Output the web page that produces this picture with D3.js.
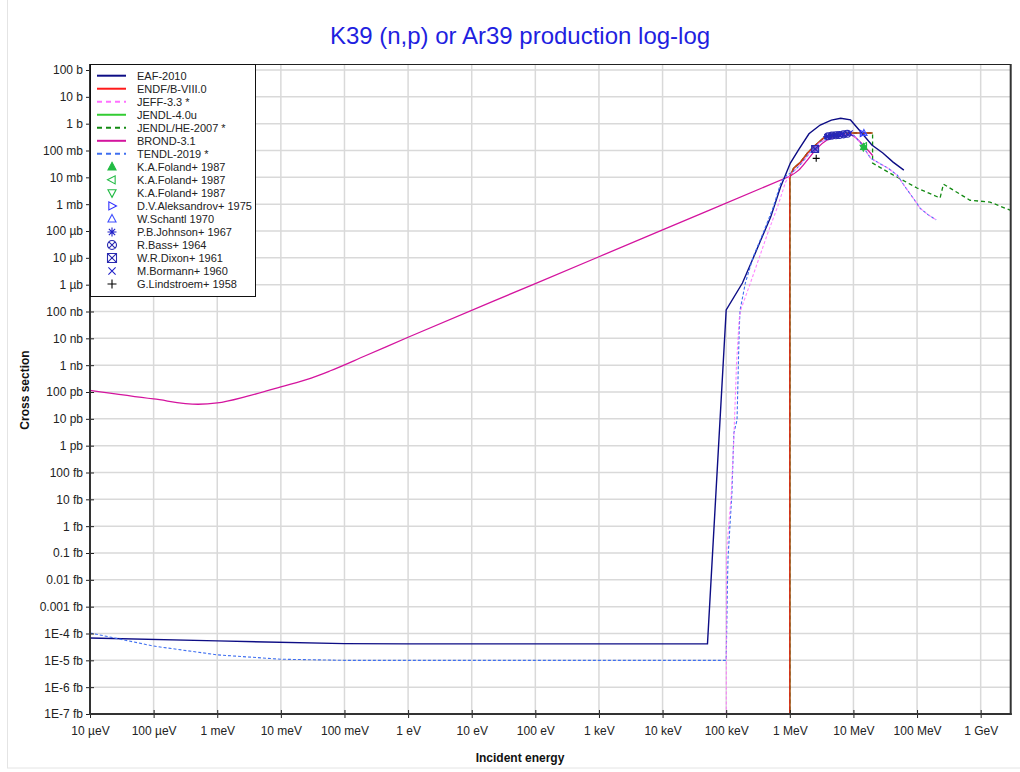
<!DOCTYPE html>
<html><head><meta charset="utf-8">
<script src="https://cdn.jsdelivr.net/npm/d3@7"></script>
<style>
body{margin:0;background:#fff;}
text{font-family:"Liberation Sans",Arial,sans-serif;}
</style></head>
<body><svg id="c" width="1020" height="772"></svg>
<script>
// ---- Tick values and labels ----
const xTickValues = [1e-5,1e-4,1e-3,1e-2,1e-1,1,10,100,1e3,1e4,1e5,1e6,1e7,1e8,1e9];
const xTickLabels = ["10 µeV","100 µeV","1 meV","10 meV","100 meV","1 eV","10 eV","100 eV","1 keV","10 keV","100 keV","1 MeV","10 MeV","100 MeV","1 GeV"];
const yTickValues = [1e2,1e1,1e0,1e-1,1e-2,1e-3,1e-4,1e-5,1e-6,1e-7,1e-8,1e-9,1e-10,1e-11,1e-12,1e-13,1e-14,1e-15,1e-16,1e-17,1e-18,1e-19,1e-20,1e-21,1e-22];
const yTickLabels = ["100 b","10 b","1 b","100 mb","10 mb","1 mb","100 µb","10 µb","1 µb","100 nb","10 nb","1 nb","100 pb","10 pb","1 pb","100 fb","10 fb","1 fb","0.1 fb","0.01 fb","0.001 fb","1E-4 fb","1E-5 fb","1E-6 fb","1E-7 fb"];

// ---- Evaluated data (E in eV, sigma in barn) ----
const eafE = [1e-5,1e-3,0.1,1,5.08e4,1.0e5,1.8e5,2.7e5,3.5e5,5.0e5,7.15e5,1.02e6,1.37e6,2.0e6,3.0e6,4.5e6,6.3e6,9.0e6,1.3e7,1.95e7,2.9e7,4.2e7,6.2e7];
const eafS = [6.8e-20,5.3e-20,4.2e-20,4.1e-20,4.1e-20,1.15e-7,1.15e-6,1.07e-5,4.6e-5,3.3e-4,4.4e-3,3.4e-2,0.105,0.42,0.89,1.36,1.6,1.38,0.5,0.16,0.081,0.037,0.0186];

const endfE = [1.0e6,1.0e6,1.15e6,1.48e6,1.9e6,2.35e6,3.4e6,4.9e6,9.0e6,2.0e7];
const endfS = [1e-25,0.0102,0.022,0.037,0.081,0.135,0.295,0.38,0.45,0.45];

const jendl4E = [1.0e6,1.0e6,1.15e6,1.48e6,1.9e6,2.35e6,3.4e6,4.9e6,9.0e6,2.0e7];
const jendl4S = [1e-25,0.0102,0.022,0.037,0.081,0.135,0.295,0.38,0.45,0.45];

const jendlHeE = [1.0e6,1.0e6,1.15e6,1.48e6,1.9e6,2.35e6,3.4e6,4.9e6,9.0e6,2.0e7,2.0e7,4.2e7,1.0e8,2.3e8,2.6e8,6.8e8,1.4e9,2.9e9];
const jendlHeS = [1e-25,0.0102,0.022,0.037,0.081,0.135,0.295,0.38,0.45,0.45,0.034,0.0123,4.0e-3,1.7e-3,5.6e-3,1.4e-3,1.2e-3,6e-4];

const brondLowE = [1e-5,1e-4,5e-4,1e-3,3e-3,1e-2,0.03,0.06,0.2,1,100,1e4,1e6];
const brondLowS = [1.15e-10,5.5e-11,3.5e-11,3.9e-11,7.0e-11,1.55e-10,3.3e-10,6.2e-10,2.1e-9,1.1e-8,1.1e-6,1.1e-4,1.1e-2];
const brondHighE = [1e6,1.38e6,1.9e6,2.7e6,3.85e6,6.2e6,9.0e6,1.3e7,2.0e7];
const brondHighS = [1.1e-2,0.0186,0.045,0.123,0.245,0.35,0.38,0.2,0.065];

const tendlE = [1e-5,1e-4,1e-3,1e-2,0.1,1e5,1.05e5,1.07e5,1.23e5,1.32e5,1.48e5,1.6e5,1.65e5,2.0e5,2.65e5,3.8e5,5.5e5,7.3e5,9.1e5,1.12e6,1.45e6,2.1e6,3.0e6,4.8e6,7.4e6,1.0e7,1.3e7,1.86e7,3.5e7,4.9e7,6.5e7,9.0e7,1.12e8,1.5e8,2.0e8];
const tendlS = [1.05e-19,3.4e-20,1.6e-20,1.1e-20,1.0e-20,1.0e-20,1e-17,7e-17,1.7e-14,3e-12,9e-12,2e-8,1.1e-7,1.15e-6,1.07e-5,8.3e-5,7.8e-4,6.8e-3,0.0123,0.016,0.029,0.087,0.21,0.32,0.41,0.38,0.19,0.052,0.022,0.012,4.4e-3,1.5e-3,7e-4,4e-4,2.6e-4];

const jeffE = [1.0e5,1.01e5,1.2e5,1.32e5,1.45e5,1.6e5,1.68e5,2.4e5,4.5e5,6.4e5,8.6e5,1.02e6,1.12e6,1.45e6,2.1e6,3.0e6,4.8e6,7.4e6,1.0e7,1.3e7,1.86e7,3.5e7,4.9e7,6.5e7,9.0e7,1.12e8,1.5e8,2.0e8];
const jeffS = [1e-25,1e-16,1.5e-14,2e-12,1e-9,5e-8,1.1e-7,1.15e-6,8.3e-5,7.8e-4,6.8e-3,0.0123,0.016,0.029,0.087,0.21,0.32,0.41,0.38,0.19,0.052,0.022,0.012,4.4e-3,1.5e-3,7e-4,4e-4,2.6e-4];

// ---- Experimental data ----
const folandUpE = [1.45e7], folandUpS = [0.135];
const folandLeftE = [1.47e7], folandLeftS = [0.15];
const folandDownE = [1.43e7], folandDownS = [0.128];
const aleksE = [1.4e7], aleksS = [0.43];
const schantlE = [1.46e7], schantlS = [0.45];
const johnsonE = [3.8e6,4.3e6,4.9e6,5.5e6], johnsonS = [0.33,0.35,0.37,0.38];
const bassE = [4.0e6,4.6e6,5.3e6,6.0e6,7.0e6,8.0e6], bassS = [0.34,0.36,0.37,0.38,0.40,0.42];
const dixonE = [2.5e6], dixonS = [0.114];
const bormannE = [6.5e6,8.8e6], bormannS = [0.40,0.44];
const lindE = [2.6e6], lindS = [0.051];

// ---- Layout ----
const svg = d3.select("#c");
const L = 90, R = 1010.7, T = 64, B = 714;
const x = d3.scaleLog().domain([1e-5, Math.pow(10, 9.472)]).range([L, R]);
const y = d3.scaleLog().domain([1e-22, Math.pow(10, 2.224)]).range([B, T]);

svg.append("rect").attr("x",7.5).attr("y",-1).attr("width",1020).attr("height",769)
  .attr("fill","none").attr("stroke","#e4e4e4");

// title
svg.append("text").attr("x",520).attr("y",44).attr("text-anchor","middle")
  .attr("font-size",24).attr("fill","#1f1fe0").text("K39 (n,p) or Ar39 production log-log");

// grid
const g = svg.append("g");
g.selectAll(".vx").data(xTickValues).join("line")
  .attr("x1",d=>x(d)).attr("x2",d=>x(d)).attr("y1",T).attr("y2",B)
  .attr("stroke","#d9d9d9").attr("stroke-width",1.5);
g.selectAll(".hy").data(yTickValues).join("line")
  .attr("x1",L).attr("x2",R).attr("y1",d=>y(d)).attr("y2",d=>y(d))
  .attr("stroke","#d9d9d9").attr("stroke-width",1.5);

// clip
svg.append("clipPath").attr("id","clip").append("rect")
  .attr("x",L).attr("y",T).attr("width",R-L).attr("height",B-T);
const plot = svg.append("g").attr("clip-path","url(#clip)");

const line = d3.line().x(d=>x(d[0])).y(d=>y(d[1]));
const smooth = d3.line().x(d=>x(d[0])).y(d=>y(d[1])).curve(d3.curveMonotoneX);
function series(E,S,color,dash,w,op,gen){
  plot.append("path").datum(E.map((e,i)=>[e,S[i]]))
    .attr("d",gen||line).attr("fill","none").attr("stroke",color)
    .attr("stroke-width",w||1.3).attr("stroke-dasharray",dash||null)
    .attr("stroke-opacity",op==null?1:op);
}
const C = {eaf:"#0d0d85", endf:"#ff1a1a", jeff:"#ff70ff", jendl4:"#33cc33", jendlHe:"#138a13", brond:"#d4149e", tendl:"#3f6ff0"};
series(jendl4E,jendl4S,C.jendl4,null,1.6);
series(jendlHeE,jendlHeS,C.jendlHe,"4,3",1.3);
series(endfE,endfS,C.endf,null,1.6,0.8);
series(brondLowE,brondLowS,C.brond,null,1.3,1,smooth);
series(brondHighE,brondHighS,C.brond,null,1.3,1,smooth);
series(eafE,eafS,C.eaf,null,1.4);
series(tendlE,tendlS,C.tendl,"3,2",1.1);
series(jeffE,jeffS,C.jeff,"3,2",1.1,0.85);

// markers
const sym = {
  triUp:(s)=>`M0,${-s}L${s*0.9},${s*0.7}L${-s*0.9},${s*0.7}Z`,
  triDown:(s)=>`M0,${s}L${s*0.9},${-s*0.7}L${-s*0.9},${-s*0.7}Z`,
  triLeft:(s)=>`M${-s},0L${s*0.7},${-s*0.9}L${s*0.7},${s*0.9}Z`,
  triRight:(s)=>`M${s},0L${-s*0.7},${-s*0.9}L${-s*0.7},${s*0.9}Z`,
  star:(s)=>`M${-s},0L${s},0M0,${-s}L0,${s}M${-s*0.7},${-s*0.7}L${s*0.7},${s*0.7}M${-s*0.7},${s*0.7}L${s*0.7},${-s*0.7}`,
  circX:(s)=>`M${s},0A${s},${s} 0 1,1 ${-s},0A${s},${s} 0 1,1 ${s},0M${-s*0.7},${-s*0.7}L${s*0.7},${s*0.7}M${-s*0.7},${s*0.7}L${s*0.7},${-s*0.7}`,
  sqX:(s)=>`M${-s},${-s}H${s}V${s}H${-s}ZM${-s},${-s}L${s},${s}M${-s},${s}L${s},${-s}`,
  x:(s)=>`M${-s*0.8},${-s*0.8}L${s*0.8},${s*0.8}M${-s*0.8},${s*0.8}L${s*0.8},${-s*0.8}`,
  plus:(s)=>`M${-s},0L${s},0M0,${-s}L0,${s}`
};
const exps = [
  {name:"K.A.Foland+ 1987", E:folandUpE, S:folandUpS, sym:"triUp", color:"#22bb44", fill:"#22bb44"},
  {name:"K.A.Foland+ 1987", E:folandLeftE, S:folandLeftS, sym:"triLeft", color:"#22bb44"},
  {name:"K.A.Foland+ 1987", E:folandDownE, S:folandDownS, sym:"triDown", color:"#22bb44"},
  {name:"D.V.Aleksandrov+ 1975", E:aleksE, S:aleksS, sym:"triRight", color:"#3030ff"},
  {name:"W.Schantl 1970", E:schantlE, S:schantlS, sym:"triUp", color:"#4050ff"},
  {name:"P.B.Johnson+ 1967", E:johnsonE, S:johnsonS, sym:"star", color:"#2020c8"},
  {name:"R.Bass+ 1964", E:bassE, S:bassS, sym:"circX", color:"#2a2ab0"},
  {name:"W.R.Dixon+ 1961", E:dixonE, S:dixonS, sym:"sqX", color:"#2a2ab0", fill:"rgba(60,60,220,0.6)"},
  {name:"M.Bormann+ 1960", E:bormannE, S:bormannS, sym:"x", color:"#2020c8"},
  {name:"G.Lindstroem+ 1958", E:lindE, S:lindS, sym:"plus", color:"#000000"}
];
exps.forEach(ex=>{
  plot.selectAll(null).data(ex.E.map((e,i)=>[e,ex.S[i]])).join("path")
    .attr("transform",d=>`translate(${x(d[0])},${y(d[1])})`)
    .attr("d",sym[ex.sym](3.5)).attr("fill",ex.fill||"none")
    .attr("stroke",ex.color).attr("stroke-width",1.1);
});

// axes
const xAxis = d3.axisBottom(x).tickValues(xTickValues).tickFormat((d,i)=>xTickLabels[i]).tickSize(4).tickSizeOuter(0);
const yAxis = d3.axisLeft(y).tickValues(yTickValues).tickFormat((d,i)=>yTickLabels[i]).tickSize(4).tickSizeOuter(0);
const gx = svg.append("g").attr("transform",`translate(0,${B})`).call(xAxis);
const gy = svg.append("g").attr("transform",`translate(${L},0)`).call(yAxis);
gx.selectAll(".tick line").attr("y1",-4).attr("y2",4).attr("stroke","#222");
gy.selectAll(".tick line").attr("x1",-4).attr("x2",4).attr("stroke","#222");
gx.selectAll(".tick text").attr("font-size",12).attr("fill","#222").attr("dy","1.15em").attr("font-family","Liberation Sans, Arial, sans-serif");
gy.selectAll(".tick text").attr("font-size",12).attr("fill","#222").attr("x",-7).attr("font-family","Liberation Sans, Arial, sans-serif");
gx.select(".domain").remove(); gy.select(".domain").remove();

// frame
svg.append("line").attr("x1",L).attr("x2",R).attr("y1",T+0.5).attr("y2",T+0.5).attr("stroke","#222").attr("stroke-width",1);
svg.append("line").attr("x1",L).attr("x2",L).attr("y1",T).attr("y2",B).attr("stroke","#333").attr("stroke-width",2);
svg.append("line").attr("x1",L-1).attr("x2",R+1).attr("y1",B).attr("y2",B).attr("stroke","#333").attr("stroke-width",2);
svg.append("line").attr("x1",R).attr("x2",R).attr("y1",T).attr("y2",B+1).attr("stroke","#333").attr("stroke-width",2);

// axis titles
svg.append("text").attr("x",520).attr("y",762).attr("text-anchor","middle")
  .attr("font-size",12).attr("font-weight","bold").attr("fill","#111").text("Incident energy");
svg.append("text").attr("transform","translate(29,390) rotate(-90)").attr("text-anchor","middle")
  .attr("font-size",12).attr("font-weight","bold").attr("fill","#111").text("Cross section");

// legend
const lg = svg.append("g");
lg.append("rect").attr("x",90.5).attr("y",64.5).attr("width",165).attr("height",232)
  .attr("fill","#fff").attr("stroke","#111").attr("stroke-width",1);
const lineEntries = [
  {name:"EAF-2010", color:C.eaf},
  {name:"ENDF/B-VIII.0", color:C.endf},
  {name:"JEFF-3.3 *", color:C.jeff, dash:"5,4"},
  {name:"JENDL-4.0u", color:C.jendl4},
  {name:"JENDL/HE-2007 *", color:C.jendlHe, dash:"5,4"},
  {name:"BROND-3.1", color:C.brond},
  {name:"TENDL-2019 *", color:C.tendl, dash:"5,4"}
];
const rowY = i => 75.7 + i*13.02;
lineEntries.forEach((e,i)=>{
  lg.append("line").attr("x1",97).attr("x2",126).attr("y1",rowY(i)).attr("y2",rowY(i))
    .attr("stroke",e.color).attr("stroke-width",2).attr("stroke-dasharray",e.dash||null);
  lg.append("text").attr("x",137).attr("y",rowY(i)).attr("dy","0.35em").attr("font-size",11).attr("fill","#222").text(e.name);
});
exps.forEach((e,j)=>{
  const i = j + lineEntries.length;
  lg.append("path").attr("transform",`translate(112,${rowY(i)})`).attr("d",sym[e.sym](4.5))
    .attr("fill", e.sym==="sqX" ? "none" : (e.fill||"none")).attr("stroke",e.color).attr("stroke-width",1.1);
  lg.append("text").attr("x",137).attr("y",rowY(i)).attr("dy","0.35em").attr("font-size",11).attr("fill","#222").text(e.name);
});
</script></body></html>
